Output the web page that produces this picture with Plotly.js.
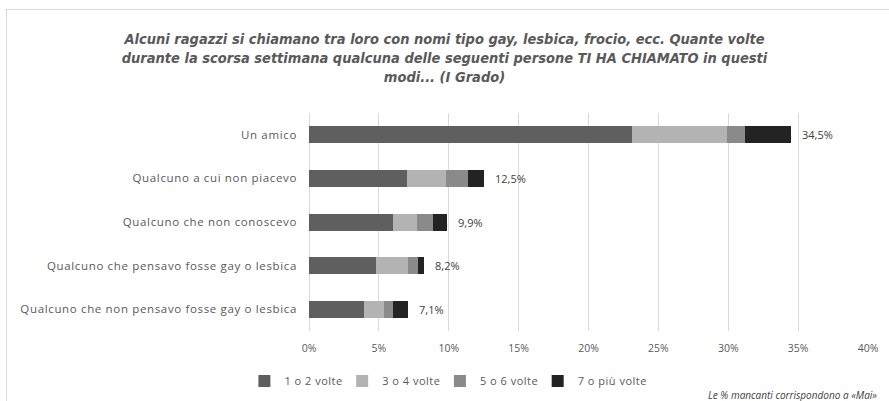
<!DOCTYPE html>
<html><head><meta charset="utf-8">
<script src="https://cdn.plot.ly/plotly-3.0.1.min.js"></script>
<style>
html,body{margin:0;padding:0;background:#fff;overflow:hidden}
#frame{position:absolute;left:6px;top:9px;width:920px;height:420px;border-left:1px solid #d9d9d9;border-top:1px solid #d9d9d9;pointer-events:none}
#chart{width:889px;height:401px}
#chart .ytick text{letter-spacing:0.65px}
#chart .legendtext{letter-spacing:0.5px}
</style></head>
<body>
<div id="chart"></div>
<div id="frame"></div>
<script>
const categories = [
  "Un amico",
  "Qualcuno a cui non piacevo",
  "Qualcuno che non conoscevo",
  "Qualcuno che pensavo fosse gay o lesbica",
  "Qualcuno che non pensavo fosse gay o lesbica"
];
const seriesNames = ["1 o 2 volte", "3 o 4 volte", "5 o 6 volte", "7 o più volte"];
const v1o2 = [23.1, 7.0, 6.0, 4.8, 3.9];
const v3o4 = [6.8, 2.8, 1.7, 2.3, 1.5];
const v5o6 = [1.3, 1.6, 1.2, 0.7, 0.6];
const v7piu = [3.3, 1.1, 1.0, 0.4, 1.1];
const totals = [34.5, 12.5, 9.9, 8.2, 7.1];
const xTickVals = [0, 5, 10, 15, 20, 25, 30, 35, 40];
const xTickText = ["0%", "5%", "10%", "15%", "20%", "25%", "30%", "35%", "40%"];
const titleText = "Alcuni ragazzi si chiamano tra loro con nomi tipo gay, lesbica, frocio, ecc. Quante volte<br>durante la scorsa settimana qualcuna delle seguenti persone TI HA CHIAMATO in questi<br>modi... (I Grado)";
const footnote = "Le % mancanti corrispondono a «Mai»";

const colors = ["#5f5f5f", "#b3b3b3", "#8a8a8a", "#232323"];
const series = [v1o2, v3o4, v5o6, v7piu];
const baseFont = "Open Sans, sans-serif";

const traces = series.map((vals, i) => ({
  type: "bar",
  orientation: "h",
  name: seriesNames[i],
  y: categories,
  x: vals,
  marker: {color: colors[i], line: {width: 0}},
  hoverinfo: "x+name"
}));

const annotations = categories.map((c, i) => ({
  x: totals[i], y: c, xref: "x", yref: "y",
  text: totals[i].toFixed(1).replace(".", ",") + "%",
  showarrow: false, xanchor: "left", xshift: 9,
  font: {family: baseFont, size: 11, color: "#404040"}
}));
annotations.push({
  x: 0.71, y: -0.294, xref: "paper", yref: "paper",
  xanchor: "left", yanchor: "middle",
  text: "<i>" + footnote + "</i>", showarrow: false,
  font: {family: baseFont, size: 10, color: "#404040"}
});

const layout = {
  width: 889, height: 401,
  margin: {l: 309, r: 21, t: 113, b: 70, autoexpand: false},
  paper_bgcolor: "#fff", plot_bgcolor: "#fff",
  barmode: "stack", bargap: 0.61,
  separators: ",.",
  title: {
    text: "<b><i>" + titleText + "</i></b>",
    x: 0.5, xanchor: "center", xref: "container",
    y: 1 - 44 / 401, yanchor: "middle", yref: "container",
    font: {family: "DejaVu Sans Condensed, sans-serif", size: 14.5, color: "#595959"}
  },
  xaxis: {
    range: [0, 40], tickvals: xTickVals, ticktext: xTickText,
    showgrid: true, gridcolor: "#d9d9d9", gridwidth: 1,
    zeroline: true, zerolinecolor: "#d9d9d9",
    showline: false, ticks: "",
    ticklabelstandoff: 9,
    tickfont: {family: baseFont, size: 10.5, color: "#595959"},
    fixedrange: true
  },
  yaxis: {
    autorange: "reversed",
    showgrid: false, zeroline: false, showline: false, ticks: "",
    ticklabelstandoff: 11,
    tickfont: {family: baseFont, size: 11.5, color: "#595959"},
    fixedrange: true
  },
  showlegend: true,
  legend: {
    orientation: "h", x: 0.244, xanchor: "center", y: -0.229, yanchor: "middle",
    traceorder: "normal",
    font: {family: baseFont, size: 11, color: "#595959"},
    itemwidth: 30
  },
  annotations: annotations
};

Plotly.newPlot("chart", traces, layout, {displayModeBar: false, staticPlot: true});
</script>
</body></html>
